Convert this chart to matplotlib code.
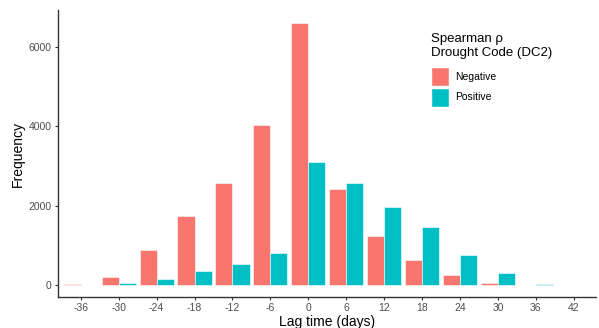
import numpy as np
import matplotlib
matplotlib.use("Agg")
import matplotlib.pyplot as plt
from matplotlib.patches import Patch

plt.rcParams['font.family'] = ['Liberation Sans', 'DejaVu Sans']

# Lag bins (days) and bar heights
lags = [-36, -30, -24, -18, -12, -6, 0, 6, 12, 18, 24, 30, 36, 42]
negative = [20, 200, 875, 1730, 2555, 4025, 6590, 2420, 1245, 620, 240, 60, 10, 0]
positive = [10, 50, 150, 355, 520, 800, 3085, 2555, 1975, 1470, 765, 290, 35, 0]

neg_color = "#F8766D"
pos_color = "#00BFC4"

fig = plt.figure(figsize=(5.99, 3.28), dpi=100)
ax = fig.add_axes([0.0968, 0.0945, 0.898, 0.875])

x = np.array(lags, dtype=float)
w = 6 * 0.9 / 2
ax.bar(x - w / 2, negative, width=w, color=neg_color, edgecolor="white", linewidth=0.4)
ax.bar(x + w / 2, positive, width=w, color=pos_color, edgecolor="white", linewidth=0.4)

ax.set_xlim(-39.6, 45.5)
ax.set_ylim(-302, 6920)
ax.set_xticks(lags)
ax.set_xticklabels([str(v) for v in lags])
ax.set_yticks([0, 2000, 4000, 6000])

for side in ["top", "right"]:
    ax.spines[side].set_visible(False)
for side in ["left", "bottom"]:
    ax.spines[side].set_linewidth(1.0)
    ax.spines[side].set_color("#333333")
ax.tick_params(axis="both", colors="#333333", labelcolor="#4D4D4D", labelsize=7.5,
               length=2.5, width=0.8, pad=2)

ax.set_xlabel("Lag time (days)", fontsize=10, labelpad=1)
ax.set_ylabel("Frequency", fontsize=10, labelpad=3)

handles = [Patch(facecolor=neg_color, edgecolor="white", label="Negative"),
           Patch(facecolor=pos_color, edgecolor="white", label="Positive")]
leg = ax.legend(handles=handles, title="Spearman \u03c1\nDrought Code (DC2)",
                loc="upper left", bbox_to_anchor=(0.685, 0.935), frameon=False,
                fontsize=7.5, title_fontsize=9.5, handlelength=1.75, handleheight=2.45,
                handletextpad=0.6, labelspacing=0.15, borderaxespad=0)
leg._legend_box.align = "left"
leg._legend_box.sep = 6

fig.savefig("out.png", dpi=100)
